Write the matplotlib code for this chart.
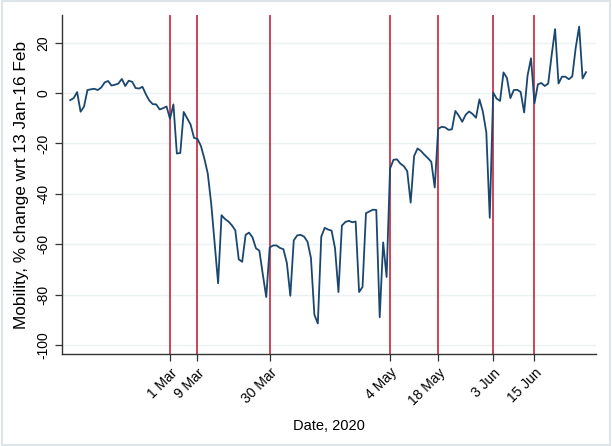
import matplotlib
matplotlib.use("Agg")
import matplotlib.pyplot as plt
import pandas as pd

plt.rcParams['font.family'] = ['Liberation Sans', 'DejaVu Sans']

start_date = "2020-02-01"
feb = [-2.8, -2.0, 0.4, -7.4, -5.4, 1.2, 1.5, 1.7, 1.2, 2.2, 4.2, 4.8, 3.0, 3.3, 3.8,
       5.6, 2.8, 4.9, 4.5, 2.0, 1.8, 2.5, -0.5, -3.0, -4.4, -4.5, -6.5, -6.0, -5.3]
mar = [-10.2, -4.5, -24.0, -23.8, -7.5, -10.0, -12.5, -17.8, -18.2, -21.0, -26.0, -32.0,
       -44.0, -60.0, -75.5, -48.5, -50.0, -51.0, -52.5, -54.5, -66.0, -67.0, -56.3, -55.4,
       -57.3, -61.6, -62.6, -72.0, -81.0, -61.3, -60.5]
apr = [-60.5, -61.5, -62.0, -67.5, -80.5, -58.5, -56.5, -56.3, -57.0, -59.0, -65.5, -88.0,
       -91.5, -57.0, -53.5, -54.2, -54.6, -61.6, -79.0, -52.6, -51.2, -50.7, -51.3, -51.0,
       -79.0, -77.0, -47.7, -47.0, -46.3, -46.4]
may = [-89.0, -59.3, -73.0, -30.0, -26.5, -26.3, -28.0, -29.0, -31.0, -43.5, -25.0, -22.0,
       -23.0, -24.5, -25.8, -27.3, -37.5, -14.2, -13.4, -13.6, -14.6, -14.4, -7.1, -9.0,
       -11.4, -8.6, -7.3, -8.3, -9.8, -2.5, -7.4]
jun = [-15.6, -49.5, 0.2, -2.2, -3.1, 8.2, 6.0, -2.0, 1.2, 1.3, 0.4, -7.7, 7.0, 13.8,
       -4.1, 3.5, 4.0, 2.8, 3.8, 15.0, 25.4, 3.8, 6.5, 6.5, 5.5, 6.6, 18.0, 26.4, 5.8, 8.3]

mobility = feb + mar + apr + may + jun
dates = pd.date_range(start_date, periods=len(mobility), freq="D")

event_dates = ["2020-03-01", "2020-03-09", "2020-03-30", "2020-05-04",
               "2020-05-18", "2020-06-03", "2020-06-15"]
event_labels = ["1 Mar", "9 Mar", "30 Mar", "4 May", "18 May", "3 Jun", "15 Jun"]
y_ticks = [-100, -80, -60, -40, -20, 0, 20]

fig = plt.figure(figsize=(6.12, 4.46), dpi=100)
fig.patch.set_facecolor("white")
ax = fig.add_axes([62/612, 1-354/446, (596-62)/612, (354-15)/446])

for y in y_ticks:
    ax.axhline(y, color="#eaf2f3", lw=1.0, zorder=0)

ev = pd.to_datetime(event_dates)
for d in ev:
    ax.axvline(d, color="#c4263d", lw=1.2, zorder=1)

ax.plot(dates, mobility, color="#1a476f", lw=1.3, zorder=2)

x0 = pd.Timestamp("2020-03-01")
ax.set_xlim(x0 - pd.Timedelta(days=31.4), x0 + pd.Timedelta(days=123.9))
ax.set_ylim(-103.6, 31)

ax.set_xticks(ev)
ax.set_xticklabels(event_labels, rotation=45, ha="right", rotation_mode="anchor", fontsize=10)
ax.set_yticks(y_ticks)
ax.set_yticklabels([str(v) for v in y_ticks], rotation=90, va="center", fontsize=10)

for s in ["top", "right"]:
    ax.spines[s].set_visible(False)
for s in ["left", "bottom"]:
    ax.spines[s].set_color("#333333")
    ax.spines[s].set_linewidth(1.0)
ax.tick_params(axis="both", direction="out", length=5, width=0.9, color="#333333")

ax.set_xlabel("Date, 2020", fontsize=10.5, labelpad=8)
ax.set_ylabel("Mobility, % change wrt 13 Jan-16 Feb", fontsize=12.4, labelpad=5)

border = plt.Rectangle((0.003, 0.003), 0.994, 0.994, transform=fig.transFigure,
                       fill=False, edgecolor="#dde5ea", lw=1.5)
fig.patches.append(border)

fig.savefig("out.png", dpi=100)
